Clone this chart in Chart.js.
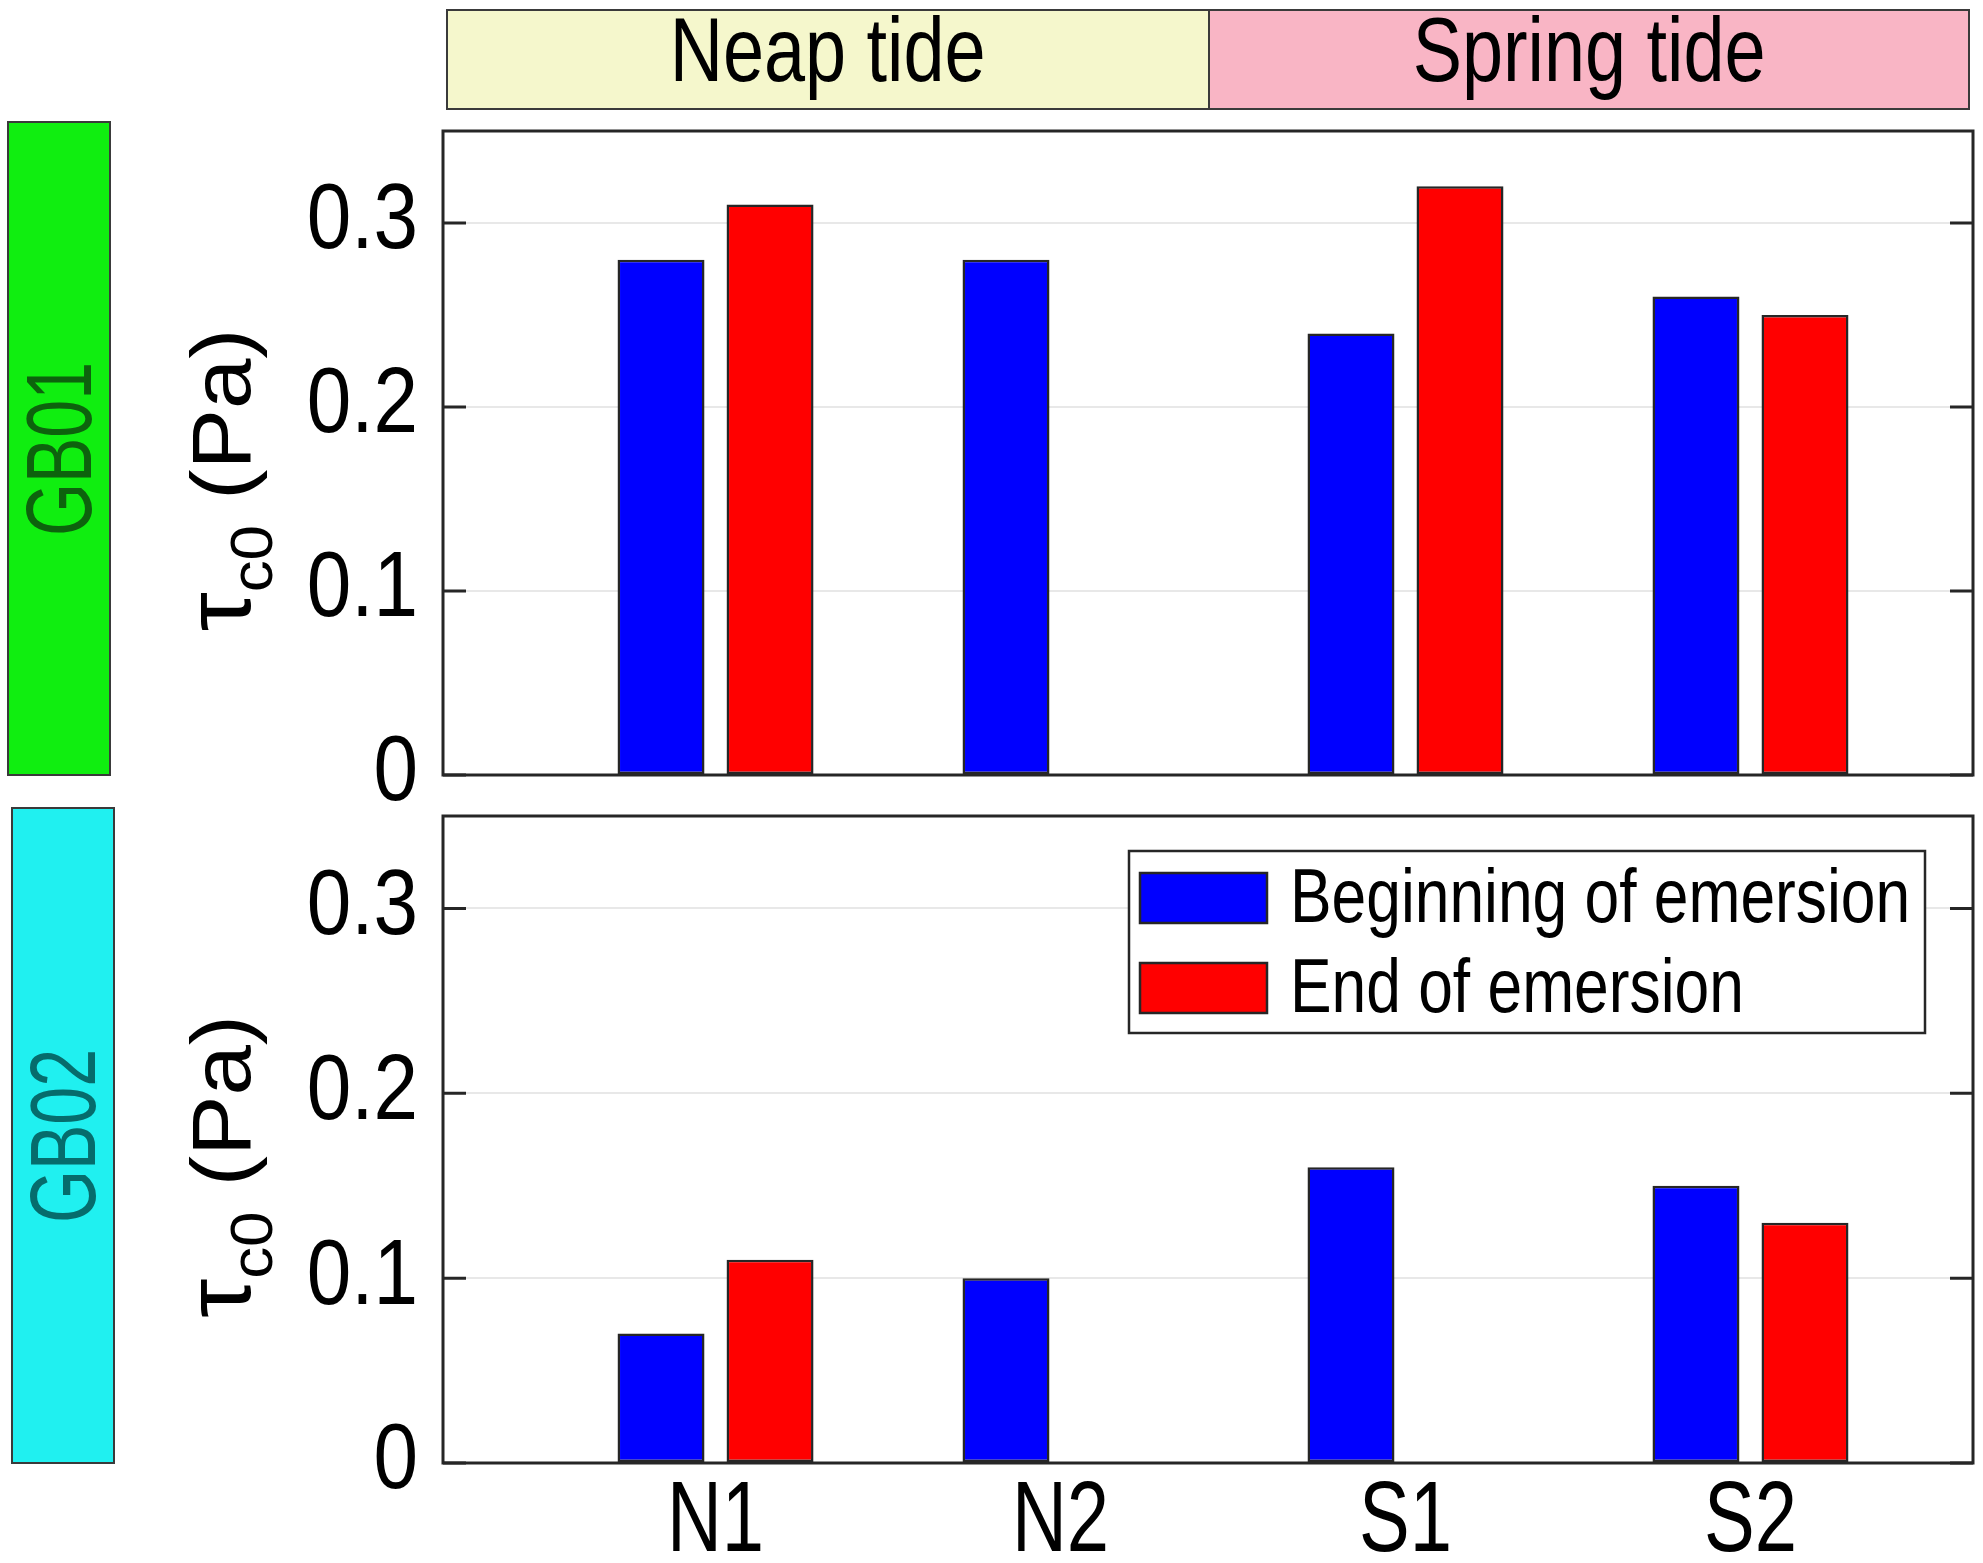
<!DOCTYPE html>
<html><head><meta charset="utf-8">
<script src="https://cdn.jsdelivr.net/npm/chart.js@4.4.1/dist/chart.umd.min.js"></script>
<style>
html,body{margin:0;padding:0;background:#fff;}
body{width:1983px;height:1563px;position:relative;overflow:hidden;}
.abs{position:absolute;box-sizing:border-box;}
.txt{font-family:'Liberation Sans',Arial,sans-serif;color:#000;white-space:nowrap;}
.half{position:absolute;top:0;bottom:0;display:flex;align-items:center;justify-content:center;}
.cond{display:inline-block;transform:scaleX(0.82);position:relative;top:-9px;}
.side{border:2px solid #3a3a3a;}
.rot{position:absolute;left:50%;top:50%;transform:translate(-50%,-50%) rotate(-90deg) scaleX(0.74);}
canvas{position:absolute;left:0;}
</style></head>
<body>
<canvas id="c1" width="1983" height="900" style="top:0"></canvas>
<canvas id="c2" width="1983" height="863" style="top:700px"></canvas>

<div class="abs" id="banner" style="left:446px;top:9px;width:1524px;height:101px;border:2px solid #3a3a3a;">
  <div class="half txt" style="left:0;width:760px;background:#f5f7cc;border-right:2px solid #3a3a3a;font-size:90px;"><span class="cond" id="t0"></span></div>
  <div class="half txt" style="left:762px;right:0;background:#f9b5c5;font-size:90px;"><span class="cond" id="t1"></span></div>
</div>
<div class="abs side" style="left:7px;top:121px;width:104px;height:655px;background:#10ee10;">
  <div class="rot txt" id="p0" style="font-size:92px;color:#0d620d;"></div>
</div>
<div class="abs side" style="left:11px;top:807px;width:104px;height:657px;background:#20f0f0;">
  <div class="rot txt" id="p1" style="font-size:92px;color:#066c6c;"></div>
</div>

<script>
// ---------- data ----------
const categories   = ['N1', 'N2', 'S1', 'S2'];
const seriesLabels = ['Beginning of emersion', 'End of emersion'];
const gb01Begin    = [0.28, 0.28, 0.24, 0.26];
const gb01End      = [0.31, null, 0.32, 0.25];
const gb02Begin    = [0.07, 0.10, 0.16, 0.15];
const gb02End      = [0.11, null, null, 0.13];
const yTickLabels  = ['0', '0.1', '0.2', '0.3'];
const panelNames   = ['GB01', 'GB02'];
const tideLabels   = ['Neap tide', 'Spring tide'];
const yTitle       = {sym: 'τ', sub: 'c0', unit: ' (Pa)'};

document.getElementById('t0').textContent = tideLabels[0];
document.getElementById('t1').textContent = tideLabels[1];
document.getElementById('p0').textContent = panelNames[0];
document.getElementById('p1').textContent = panelNames[1];

const FAM = "'Liberation Sans',Arial,sans-serif";
const EDGE = '#262626';
const Y_FONT = 92, X_FONT = 100;

// narrow lettering: horizontal squeeze of each text run
function condense(canvas) {
  const ctx = canvas.getContext('2d');
  const orig = ctx.fillText.bind(ctx);
  ctx._sx = null;
  ctx.fillText = function (t, x, y, mw) {
    let sx = this._sx;
    if (sx === null) {
      if (this.font.indexOf(X_FONT + 'px') >= 0) sx = 0.76;
      else if (this.font.indexOf(Y_FONT + 'px') >= 0) sx = 0.87;
      else sx = 0.82;
    }
    this.save();
    this.translate(x, y);
    this.scale(sx, 1);
    if (mw === undefined || mw === null) orig(t, 0, 0); else orig(t, 0, 0, mw / sx);
    this.restore();
  };
  return canvas;
}

const framePlugin = {
  id: 'frame',
  afterDatasetsDraw(chart) {
    const {ctx, chartArea: a, scales: {y}} = chart;
    ctx.save();
    ctx.strokeStyle = EDGE;
    ctx.lineWidth = 3;
    y.ticks.forEach(t => {
      const py = y.getPixelForValue(t.value);
      ctx.beginPath();
      ctx.moveTo(a.left, py); ctx.lineTo(a.left + 23, py);
      ctx.moveTo(a.right - 23, py); ctx.lineTo(a.right, py);
      ctx.stroke();
    });
    ctx.strokeRect(a.left, a.top, a.right - a.left, a.bottom - a.top);
    ctx.restore();
  }
};

const titlePlugin = {
  id: 'ytitle',
  afterDraw(chart) {
    const {ctx, chartArea: a} = chart;
    const F = 84, SXT = 1.08;
    ctx.save();
    ctx._sx = SXT;
    ctx.fillStyle = '#000';
    ctx.textBaseline = 'alphabetic';
    ctx.textAlign = 'left';
    const fMain = `${F}px ${FAM}`;
    const fSym = `${F + 8}px ${FAM}`;
    const fSub = `${Math.round(F * 0.7)}px ${FAM}`;
    ctx.font = fSym; const w1 = ctx.measureText(yTitle.sym).width * SXT;
    ctx.font = fSub; const w2 = ctx.measureText(yTitle.sub).width * SXT;
    ctx.font = fMain; const w3 = ctx.measureText(yTitle.unit).width * SXT;
    const total = w1 + w2 + w3;
    const cy = (a.top + a.bottom) / 2 + 27;
    ctx.translate(250, cy + total / 2);
    ctx.rotate(-Math.PI / 2);
    ctx.font = fSym; ctx.fillText(yTitle.sym, 0, 0);
    ctx.font = fSub; ctx.fillText(yTitle.sub, w1, 22);
    ctx.font = fMain; ctx.fillText(yTitle.unit, w1 + w2, 0);
    ctx._sx = null;
    ctx.restore();
  }
};

const legendPlugin = {
  id: 'boxlegend',
  afterDraw(chart) {
    const {ctx, chartArea: a} = chart;
    const x0 = a.right - 844, y0 = a.top + 35, w = 796, h = 182;
    ctx.save();
    ctx._sx = 0.82;
    ctx.fillStyle = '#fff';
    ctx.fillRect(x0, y0, w, h);
    ctx.strokeStyle = EDGE; ctx.lineWidth = 2.5;
    ctx.strokeRect(x0, y0, w, h);
    ctx.font = `76px ${FAM}`;
    ctx.textBaseline = 'middle';
    ctx.textAlign = 'left';
    chart.data.datasets.forEach((ds, i) => {
      const sy = y0 + 22 + i * 90;
      ctx.fillStyle = ds.backgroundColor;
      ctx.fillRect(x0 + 11, sy, 127, 50);
      ctx.strokeStyle = EDGE; ctx.lineWidth = 2.5;
      ctx.strokeRect(x0 + 11, sy, 127, 50);
      ctx.fillStyle = '#000';
      ctx.fillText(ds.label, x0 + 161, sy + 28);
    });
    ctx._sx = null;
    ctx.restore();
  }
};

function makeChart(id, begin, end, o) {
  const mk = arr => arr.map((v, i) => ({x: i + 1, y: v}));
  return new Chart(condense(document.getElementById(id)), {
    type: 'bar',
    data: {
      datasets: [
        {label: seriesLabels[0], data: mk(begin), backgroundColor: '#0000ff'},
        {label: seriesLabels[1], data: mk(end), backgroundColor: '#ff0000'}
      ]
    },
    options: {
      responsive: false, animation: false, devicePixelRatio: 1,
      layout: {padding: {left: 0, right: 10, top: o.padTop, bottom: 0}},
      datasets: {bar: {categoryPercentage: 0.632, barPercentage: 0.798,
        borderColor: EDGE, borderWidth: 2.5, borderSkipped: false}},
      plugins: {legend: {display: false}, tooltip: {enabled: false}},
      scales: {
        x: {
          type: 'linear', min: 0.21, max: 4.645, offset: false,
          afterBuildTicks: s => { s.ticks = categories.map((c, i) => ({value: i + 1})); },
          afterFit: s => { s.height = o.xH; },
          grid: {display: false, drawTicks: false, offset: false},
          border: {display: false},
          ticks: {display: o.showX, autoSkip: false, maxRotation: 0, padding: o.xPad,
            color: '#000', font: {family: FAM, size: X_FONT},
            callback: v => categories[Math.round(v) - 1]}
        },
        y: {
          min: 0, max: 0.35,
          afterFit: s => { s.width = 443; },
          grid: {color: '#e8e8e8', lineWidth: 2, drawTicks: false},
          border: {display: false},
          ticks: {stepSize: 0.05, padding: 25, color: '#000', font: {family: FAM, size: Y_FONT},
            callback: v => {
              const k = Math.round(v * 10);
              return Math.abs(v * 10 - k) < 1e-6 && k < yTickLabels.length ? yTickLabels[k] : '';
            }}
        }
      }
    },
    plugins: o.legend ? [framePlugin, titlePlugin, legendPlugin] : [framePlugin, titlePlugin]
  });
}

makeChart('c1', gb01Begin, gb01End, {padTop: 131, xH: 125, showX: false, xPad: 0, legend: false});
makeChart('c2', gb02Begin, gb02End, {padTop: 116, xH: 100, showX: true, xPad: 0, legend: true});
</script>
</body></html>
